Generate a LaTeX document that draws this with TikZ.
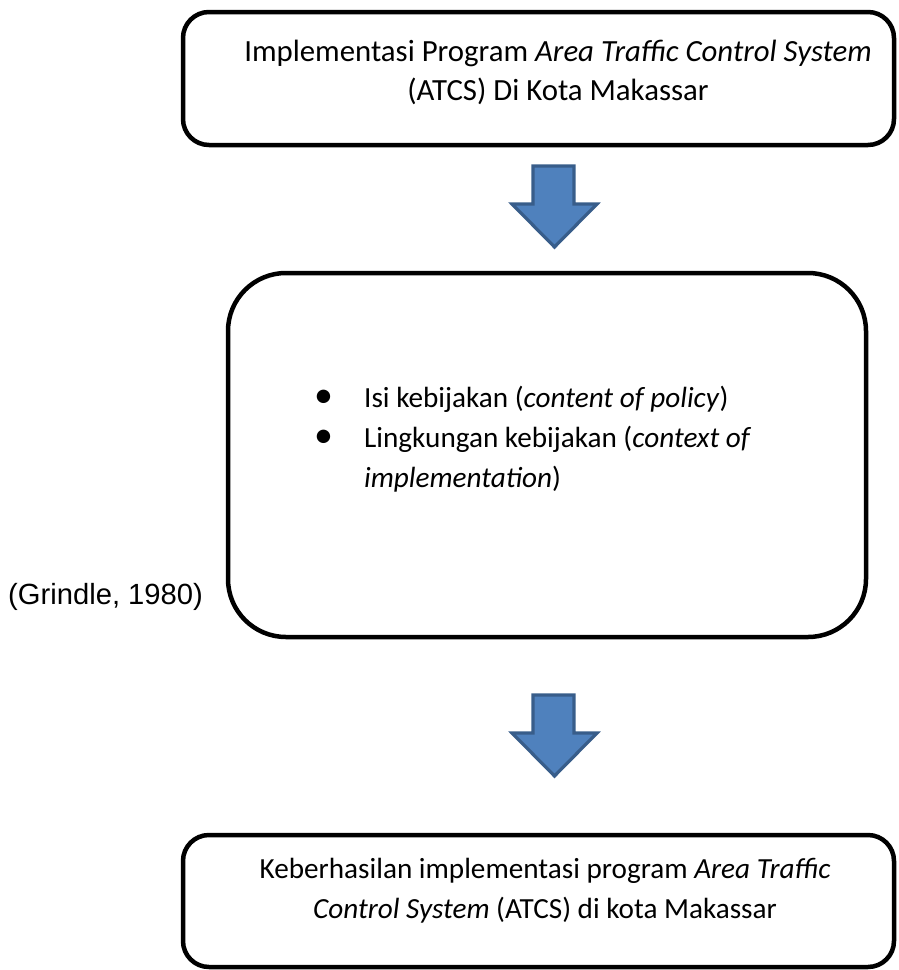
\documentclass[tikz,border=0pt]{standalone}
\usepackage{fontspec}
\setmainfont{Carlito}
\newfontfamily\arialfont{Liberation Sans}

\definecolor{arrowfill}{HTML}{4F81BD}
\definecolor{arrowline}{HTML}{385D8A}

\tikzset{
  framebox/.style={draw=black, line width=4.5pt, fill=white, inner sep=0pt},
  bodytext/.style={font=\fontsize{29.2}{40}\selectfont, inner sep=0pt},
  titletext/.style={font=\fontsize{30.8}{39}\selectfont, inner sep=0pt},
  blockarrow/.style={fill=arrowfill, draw=arrowline, line width=3.2pt, line join=miter},
}
\newcommand{\bigdot}{\makebox[50pt][l]{\scalebox{1.3}{\textbullet}}}

\begin{document}
\begin{tikzpicture}[x=1pt, y=-1pt]
\useasboundingbox (0,0) rectangle (898,970);

% frames
\node[framebox, rounded corners=26pt, minimum width=711pt, minimum height=133pt]
  (top) at (538.5,78.5) {};
\node[framebox, rounded corners=58pt, minimum width=638pt, minimum height=364pt]
  (mid) at (547,455) {};
\node[framebox, rounded corners=26pt, minimum width=711pt, minimum height=132pt]
  (bot) at (538.5,901) {};

% texts
\node[titletext, align=center] (toptext) at (558,72)
  {Implementasi Program \textit{Area Traffic Control System}\\(ATCS) Di Kota Makassar};

\node[bodytext, align=left, anchor=north west] (midtext) at (314,386)
  {\bigdot Isi kebijakan (\textit{content of policy})\\
   \bigdot Lingkungan kebijakan (\textit{context of}\\
   \hspace*{50pt}\textit{implementation})};

\node[bodytext, align=center] (bottext) at (545,891)
  {Keberhasilan implementasi program \textit{Area Traffic}\\\textit{Control System} (ATCS) di kota Makassar};

\node[font=\arialfont\fontsize{29.2}{35}\selectfont, inner sep=0pt, anchor=west]
  (cite) at (8,597) {(Grindle, 1980)};

% block arrows between the frames
\draw[blockarrow] (533,166) -- (574,166) -- (574,204) -- (597,204) -- (554.5,247)
  -- (512,204) -- (533,204) -- cycle;
\draw[blockarrow] (533,695) -- (574,695) -- (574,733) -- (597,733) -- (554.5,776)
  -- (512,733) -- (533,733) -- cycle;
\end{tikzpicture}
\end{document}
